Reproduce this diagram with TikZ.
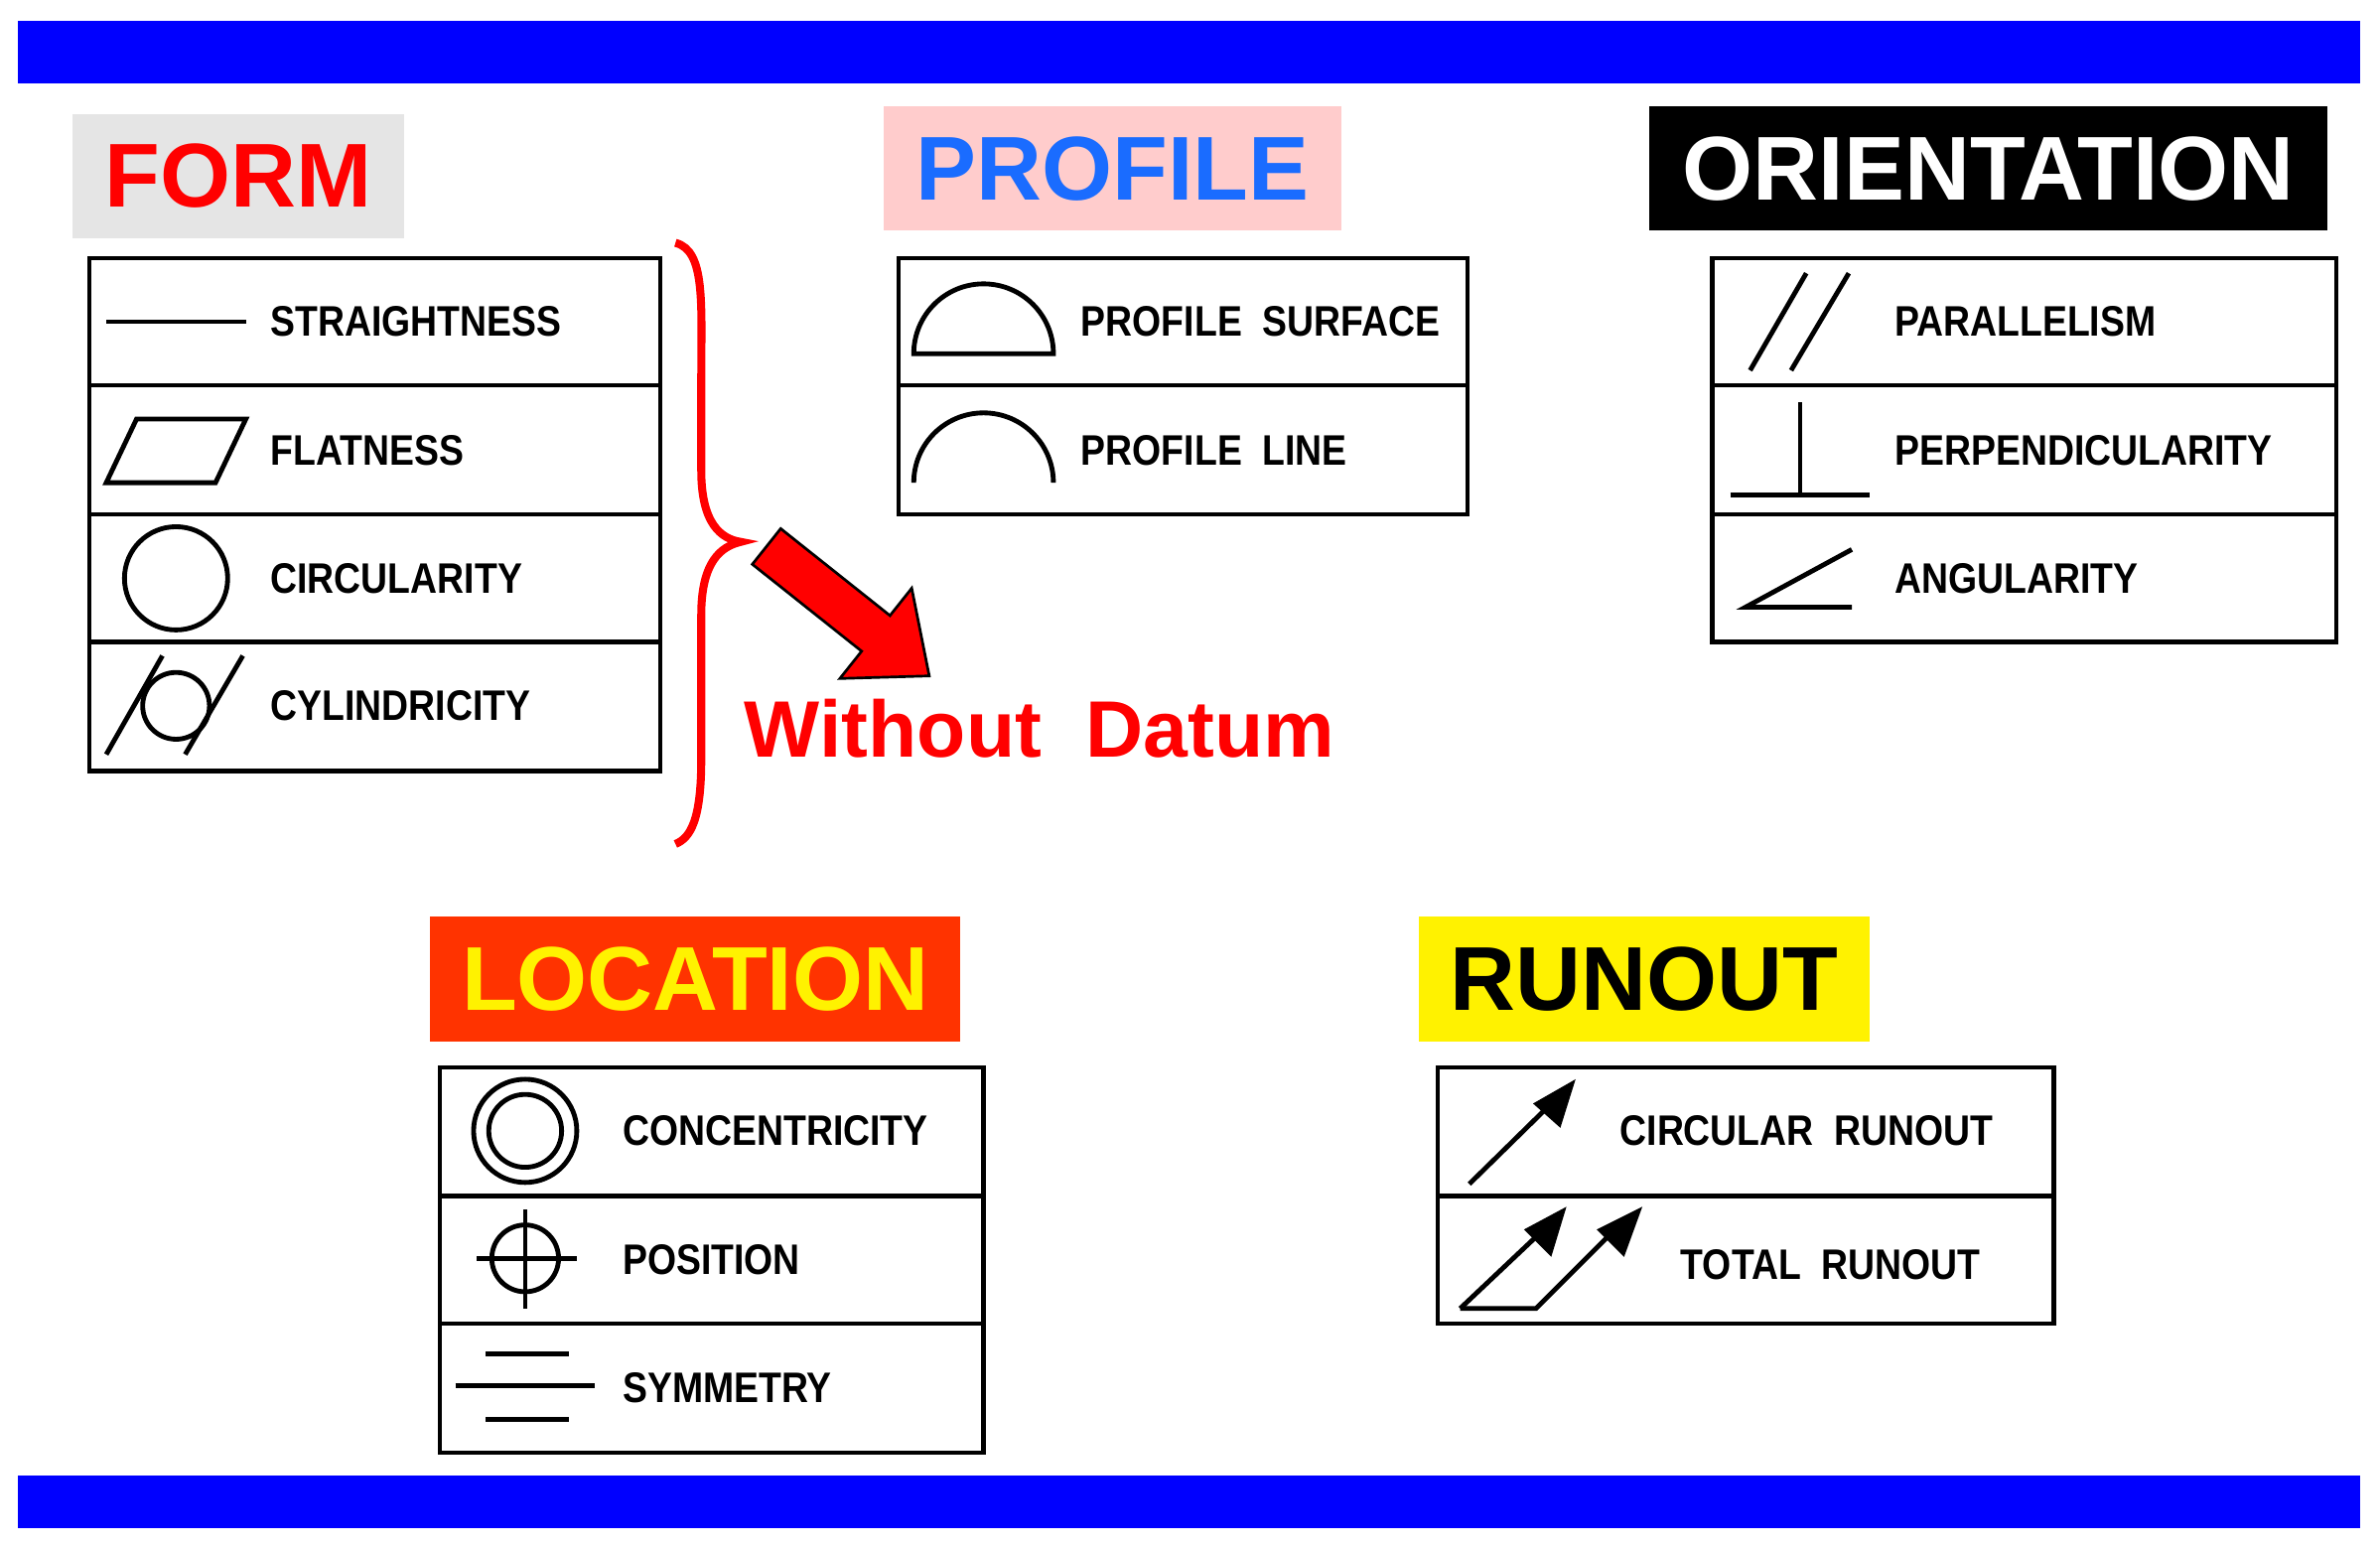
\documentclass[tikz,border=0pt]{standalone}
\usepackage{fontspec}
\setmainfont{Liberation Sans}
\begin{document}
\begin{tikzpicture}[x=0.02cm,y=-0.02cm,
  sym/.style={line width=1.8pt,black},
  tbl/.style={line width=1.6pt,black},
  item/.style={anchor=west,font=\fontsize{16}{16}\selectfont\bfseries,inner sep=0pt,transform shape,xscale=0.87},
  title/.style={font=\fontsize{34}{34}\selectfont\bfseries,inner sep=0pt,minimum height=82*0.02cm}]
\useasboundingbox (0,0) rectangle (1568,1020);
\fill[blue] (12,14) rectangle (1555,55);
\fill[blue] (12,972) rectangle (1555,1007);
% titles
\node[title,fill=black!10,text=red,minimum width=218*0.02cm] (tform) at (157,116) {FORM};
\node[title,fill={rgb,255:red,255;green,204;blue,204},text={rgb,255:red,26;green,108;blue,255},minimum width=301*0.02cm] (tprof) at (733,111) {PROFILE};
\node[title,fill=black,text=white,minimum width=447*0.02cm] (torient) at (1310,111) {ORIENTATION};
\node[title,fill={rgb,255:red,255;green,51;blue,0},text=yellow,minimum width=349*0.02cm] (tloc) at (458,645) {LOCATION};
\node[title,fill=yellow,text=black,minimum width=297*0.02cm] (trun) at (1083,645) {RUNOUT};
% tables
\draw[tbl] (59,170) rectangle (435,508); \foreach \y in {254,339,423} \draw[tbl] (59,\y)--(435,\y);
\draw[tbl] (592,170) rectangle (967,339); \draw[tbl] (592,254)--(967,254);
\draw[tbl] (1128,170) rectangle (1539,423); \foreach \y in {254,339} \draw[tbl] (1128,\y)--(1539,\y);
\draw[tbl] (290,703) rectangle (648,957); \foreach \y in {788,872} \draw[tbl] (290,\y)--(648,\y);
\draw[tbl] (947,703) rectangle (1353,872); \draw[tbl] (947,788)--(1353,788);
% form items
\node[item] (a1) at (178,212) {STRAIGHTNESS};
\node[item] (a2) at (178,297) {FLATNESS};
\node[item] (a3) at (178,381) {CIRCULARITY};
\node[item] (a4) at (178,465) {CYLINDRICITY};
\draw[sym] (70,212)--(162,212);
\draw[sym] (70,318)--(90,276)--(162,276)--(142,318)--cycle;
\draw[sym] (116,381) circle (34);
\draw[sym] (116,465) circle (22); \draw[sym] (70,497)--(107,432); \draw[sym] (122,497)--(160,432);
% profile
\node[item] (b1) at (712,212) {PROFILE\ \ SURFACE};
\node[item] (b2) at (712,297) {PROFILE\ \ LINE};
\draw[sym] (602,233) arc[start angle=180,end angle=360,radius=46] -- cycle;
\draw[sym] (602,318) arc[start angle=180,end angle=360,radius=46];
% orientation
\node[item] (c1) at (1248,212) {PARALLELISM};
\node[item] (c2) at (1248,297) {PERPENDICULARITY};
\node[item] (c3) at (1248,381) {ANGULARITY};
\draw[sym] (1153,244)--(1190,180); \draw[sym] (1180,244)--(1218,180);
\draw[sym] (1186,265)--(1186,326); \draw[sym] (1140,326)--(1232,326);
\draw[sym] (1220,400)--(1150,400)--(1220,362);
% location
\node[item] (d1) at (410,745) {CONCENTRICITY};
\node[item] (d2) at (410,830) {POSITION};
\node[item] (d3) at (410,914) {SYMMETRY};
\draw[sym] (346,745) circle (34); \draw[sym] (346,745) circle (24);
\draw[sym] (346,829) circle (22); \draw[sym] (314,829)--(380,829); \draw[sym] (346,797)--(346,862);
\draw[sym] (320,892)--(375,892); \draw[sym] (300,913)--(392,913); \draw[sym] (320,935)--(375,935);
% runout
\node[item] (e1) at (1067,745) {CIRCULAR\ \ RUNOUT};
\node[item] (e2) at (1107,833) {TOTAL\ \ RUNOUT};
\draw[sym] (968,780)--(1022,727); \fill (1038,711)--(1010,727)--(1028,743)--cycle;
\draw[sym] (962,862)--(1012,862)--(1062,812); \fill (1082,795)--(1052,810)--(1070,828)--cycle;
\draw[sym] (962,862)--(1016,811); \fill (1032,795)--(1004,810)--(1022,828)--cycle;
% brace, arrow
\draw[red,line width=3pt] (445,160) .. controls (465,165) and (462,200) .. (462,250) -- (462,310) .. controls (462,345) and (475,355) .. (488,357) .. controls (475,360) and (462,370) .. (462,405) -- (462,500) .. controls (462,540) and (455,552) .. (445,556);
\draw[fill=red,line width=1pt,shift={(505,360)},rotate=-38.5] (0,-15)--(92,-15)--(92,-38)--(137,0)--(92,38)--(92,15)--(0,15)--cycle;
\node[text=red,font=\fontsize{30}{30}\selectfont\bfseries,inner sep=0pt] (wd) at (685,480) {Without\ \ Datum};
\end{tikzpicture}
\end{document}
